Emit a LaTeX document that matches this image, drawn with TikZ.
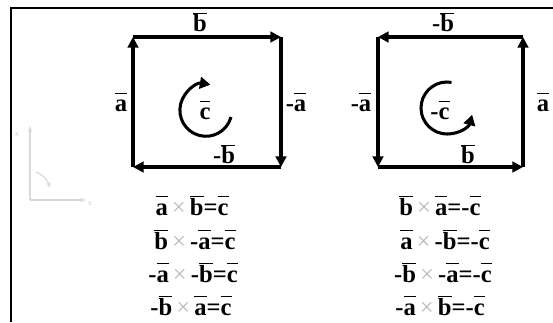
\documentclass[tikz,border=0pt]{standalone}
\usepackage{fontspec}
\setmainfont{Liberation Serif}[BoldFont={Liberation Serif Bold}]
\usetikzlibrary{arrows.meta}
\newcommand{\vb}[1]{$\overline{\vphantom{b}\mbox{#1}}$}
\newcommand{\crs}{\textcolor{gray!55}{\mdseries\,×\,}}

\begin{document}
\begin{tikzpicture}[x=0.03cm,y=0.03cm,
 font=\fontsize{21}{24}\selectfont\bfseries,
 side/.style={line width=3pt,-{Triangle[length=9pt,width=9pt]}},
 turn/.style={line width=2.6pt,-{Triangle[length=9pt,width=10pt]}},
 lbl/.style={inner sep=1pt},
 eqn/.style={anchor=base,inner sep=0pt},
 faint/.style={gray!30,line width=1pt,-{Stealth[length=5pt]}}]
\useasboundingbox (0,0) rectangle (553,322);
% frame
\draw[line width=1.6pt] (11,0) -- (11,314) -- (553,314);

% left square
\coordinate (la) at (133,155); \coordinate (lb) at (133,285);
\coordinate (lc) at (281,285); \coordinate (ld) at (281,155);
\draw[side] (la) -- (lb); \draw[side] (lb) -- (lc);
\draw[side] (lc) -- (ld); \draw[side] (ld) -- (la);
\node[lbl] (lbtop) at (200,300) {\vb{b}};
\node[lbl] (laleft) at (121,220) {\vb{a}};
\node[lbl] (laright) at (296,220) {-\vb{a}};
\node[lbl] (lbbot) at (224,168) {-\vb{b}};
\node[lbl] (lcc) at (205,212) {\vb{c}};
\draw[turn] (lcc) ++(26,-7) arc[start angle=-15,end angle=-280,radius=26];

% right square
\coordinate (ra) at (378,285); \coordinate (rb) at (378,155);
\coordinate (rc) at (523,155); \coordinate (rd) at (523,285);
\draw[side] (rd) -- (ra); \draw[side] (ra) -- (rb);
\draw[side] (rb) -- (rc); \draw[side] (rc) -- (rd);
\node[lbl] (rbtop) at (443,300) {-\vb{b}};
\node[lbl] (raleft) at (361,220) {-\vb{a}};
\node[lbl] (raright) at (543,220) {\vb{a}};
\node[lbl] (rbbot) at (468,168) {\vb{b}};
\node[lbl] (rcc) at (440,212) {-\vb{c}};
\draw[turn] (447,214) ++(80:26) arc[start angle=80,end angle=345,radius=26];

% products
\node[eqn] (le1) at (192,107) {\vb{a}\crs\vb{b}=\vb{c}};
\node[eqn] (le2) at (195,73) {\vb{b}\crs-\vb{a}=\vb{c}};
\node[eqn] (le3) at (193,40) {-\vb{a}\crs-\vb{b}=\vb{c}};
\node[eqn] (le4) at (191,7) {-\vb{b}\crs\vb{a}=\vb{c}};
\node[eqn] (re1) at (440,107) {\vb{b}\crs\vb{a}=-\vb{c}};
\node[eqn] (re2) at (445,73) {\vb{a}\crs-\vb{b}=-\vb{c}};
\node[eqn] (re3) at (443,40) {-\vb{b}\crs-\vb{a}=-\vb{c}};
\node[eqn] (re4) at (440,7) {-\vb{a}\crs\vb{b}=-\vb{c}};

% axes icon
\coordinate (ax) at (30,122);
\draw[faint] (ax) -- (30,196);
\draw[faint] (ax) -- (86,122);
\draw[faint] (36,150) to[bend left=25] (50,134);
\node[gray!40,font=\fontsize{7}{8}\selectfont,inner sep=0pt] (xv) at (17,187) {x};
\node[gray!40,font=\fontsize{7}{8}\selectfont,inner sep=0pt] (xh) at (90,118) {x};
\end{tikzpicture}
\end{document}
